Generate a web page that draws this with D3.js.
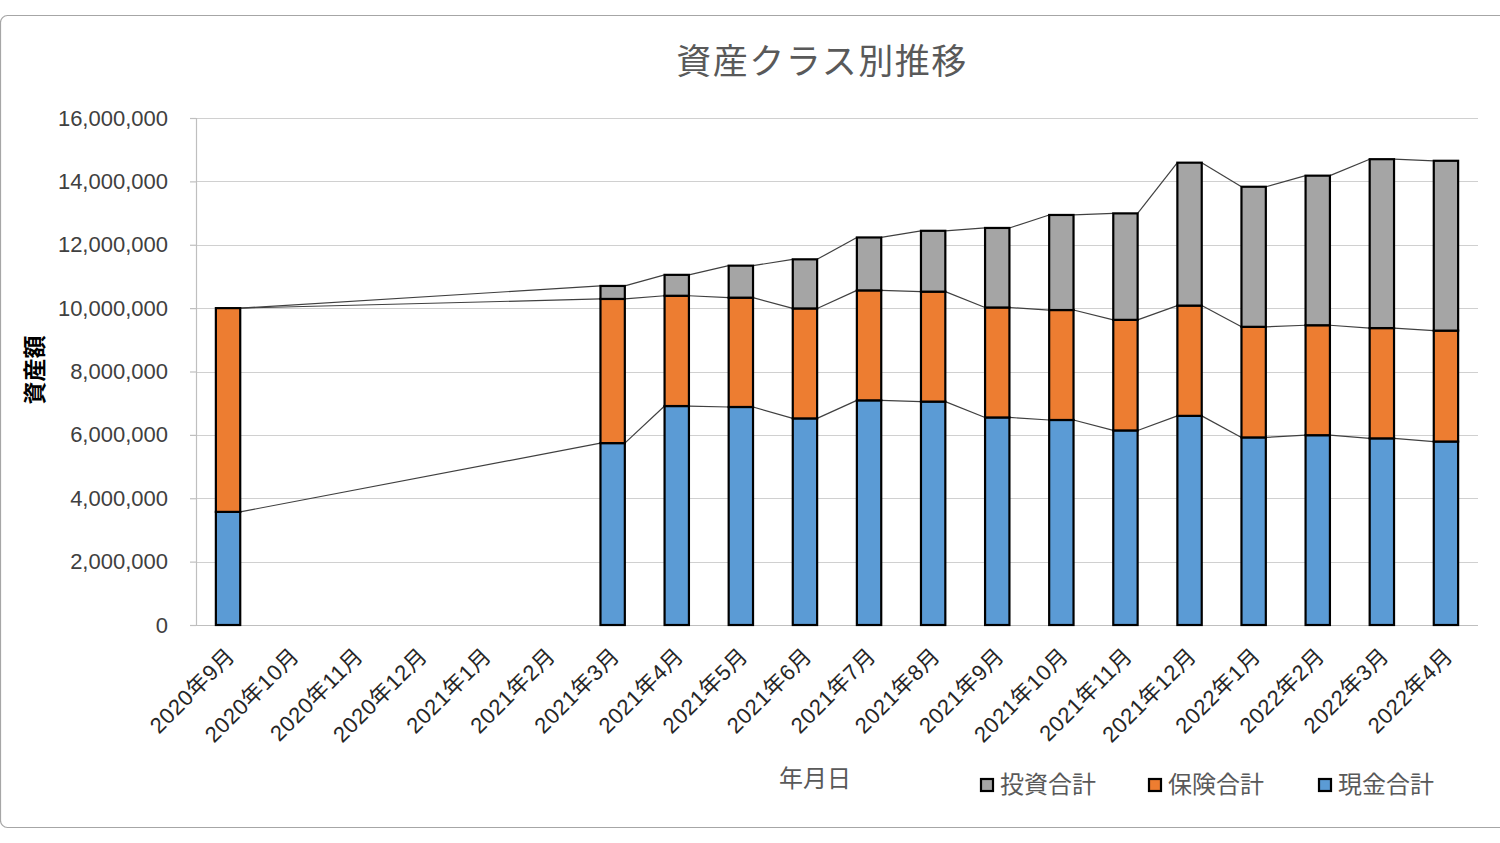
<!DOCTYPE html>
<html>
<head>
<meta charset="utf-8">
<script src="https://cdnjs.cloudflare.com/ajax/libs/d3/7.8.5/d3.min.js"></script>
<style>
  html, body { margin: 0; padding: 0; background: #ffffff; }
  svg { display: block; }
</style>
</head>
<body>
<svg id="chart" width="1500" height="843"></svg>
<script>
const months = ["2020年9月","2020年10月","2020年11月","2020年12月","2021年1月","2021年2月","2021年3月","2021年4月","2021年5月","2021年6月","2021年7月","2021年8月","2021年9月","2021年10月","2021年11月","2021年12月","2022年1月","2022年2月","2022年3月","2022年4月"];
const cashTotal = [3570000,null,null,null,null,null,5740000,6910000,6880000,6520000,7090000,7050000,6550000,6470000,6140000,6600000,5920000,5990000,5890000,5790000];
const insuranceTotal = [6430000,null,null,null,null,null,4550000,3480000,3450000,3470000,3470000,3470000,3470000,3470000,3490000,3480000,3490000,3470000,3480000,3500000];
const investTotal = [0,null,null,null,null,null,410000,660000,1010000,1550000,1670000,1920000,2510000,3000000,3360000,4510000,4420000,4720000,5330000,5360000];
const yTicks = [0,2000000,4000000,6000000,8000000,10000000,12000000,14000000,16000000];
const seriesNames = ["現金合計","保険合計","投資合計"];
const legendNames = ["投資合計","保険合計","現金合計"];
const colors = {"現金合計":"#5b9bd5","保険合計":"#ed7d31","投資合計":"#a5a5a5"};

const svg = d3.select("#chart");
const FONT = "'Liberation Sans','Noto Sans CJK JP',sans-serif";
const CJK = "'Noto Sans CJK JP','Liberation Sans',sans-serif";

// frame
svg.append("rect").attr("x",0.5).attr("y",15.5).attr("width",1520).attr("height",812)
  .attr("rx",7).attr("fill","#fff").attr("stroke","#a6a6a6").attr("stroke-width",1.2);

const L = 196, R = 1478, T = 118, B = 625;
const x = d3.scaleBand().domain(months).range([L,R]).paddingInner(0.62).paddingOuter(0.31);
const y = d3.scaleLinear().domain([0,16000000]).range([B,T]);

// gridlines
svg.append("g").selectAll("line").data(yTicks.filter(d=>d>0)).join("line")
  .attr("x1",L).attr("x2",R).attr("y1",d=>Math.round(y(d))+0.5).attr("y2",d=>Math.round(y(d))+0.5)
  .attr("stroke","#d0d0d0").attr("stroke-width",1.2);

// y axis
const yAxis = d3.axisLeft(y).tickValues(yTicks).tickSize(6).tickPadding(22)
  .tickFormat(d=>d3.format(",")(d));
const gy = svg.append("g").attr("transform",`translate(${L},0)`).call(yAxis);
gy.select(".domain").attr("stroke","#bfbfbf").attr("stroke-width",1.2);
gy.selectAll(".tick line").attr("stroke","#bfbfbf").attr("stroke-width",1.2);
gy.selectAll("text").attr("font-family",FONT).attr("font-size",22).attr("fill","#404040");

// x axis
const xAxis = d3.axisBottom(x).tickSize(0).tickSizeOuter(0).tickFormat("");
const gx = svg.append("g").attr("transform",`translate(0,${B})`).call(xAxis);
gx.select(".domain").attr("stroke","#bfbfbf").attr("stroke-width",1.2).attr("d",`M${L-6},0.5H${R}`);

svg.append("g").selectAll("text").data(months).join("text")
  .attr("transform",d=>`translate(${x(d)+x.bandwidth()/2+3},652) rotate(-45)`)
  .attr("text-anchor","end").attr("dominant-baseline","central")
  .attr("font-family",FONT).attr("font-size",22).attr("letter-spacing",0.6).attr("fill","#262626")
  .text(d=>d);

// stacked data
const rows = months.map((m,i)=>({month:m,"現金合計":cashTotal[i],"保険合計":insuranceTotal[i],"投資合計":investTotal[i]}));
const valid = rows.filter(r=>r["現金合計"]!==null);
const stack = d3.stack().keys(seriesNames);
const stacked = stack(valid);

const bw = x.bandwidth();

// series lines
const lineG = svg.append("g");
stacked.forEach(layer=>{
  for(let i=0;i<layer.length-1;i++){
    const a = layer[i], b = layer[i+1];
    lineG.append("line")
      .attr("x1",x(a.data.month)+bw).attr("y1",y(a[1]))
      .attr("x2",x(b.data.month)).attr("y2",y(b[1]))
      .attr("stroke","#404040").attr("stroke-width",1.2);
  }
});

// bars
const barG = svg.append("g");
stacked.forEach(layer=>{
  barG.append("g").selectAll("rect").data(layer.filter(d=>d[1]-d[0]>0)).join("rect")
    .attr("x",d=>x(d.data.month)).attr("width",bw)
    .attr("y",d=>y(d[1])).attr("height",d=>y(d[0])-y(d[1]))
    .attr("fill",colors[layer.key]).attr("stroke","#000").attr("stroke-width",2.2);
});

// title
svg.append("text").attr("x",822).attr("y",58).attr("text-anchor","middle").attr("dominant-baseline","central")
  .attr("font-family",CJK).attr("font-size",35).attr("letter-spacing",1.5).attr("fill","#595959").text("資産クラス別推移");

// axis titles
svg.append("text").attr("transform","translate(33,370) rotate(-90)").attr("text-anchor","middle").attr("dominant-baseline","central")
  .attr("font-family",CJK).attr("font-size",23).attr("font-weight","bold").attr("fill","#000").text("資産額");
svg.append("text").attr("x",815).attr("y",776).attr("text-anchor","middle").attr("dominant-baseline","central")
  .attr("font-family",CJK).attr("font-size",24).attr("fill","#595959").text("年月日");

// legend
const legendX = [981,1149,1319];
const lg = svg.append("g").selectAll("g").data(legendNames).join("g")
  .attr("transform",(d,i)=>`translate(${legendX[i]},779)`);
lg.append("rect").attr("width",12).attr("height",12).attr("fill",d=>colors[d]).attr("stroke","#000").attr("stroke-width",2.2);
lg.append("text").attr("x",19).attr("y",3).attr("dominant-baseline","central")
  .attr("font-family",CJK).attr("font-size",24).attr("fill","#595959").text(d=>d);
</script>
</body>
</html>
